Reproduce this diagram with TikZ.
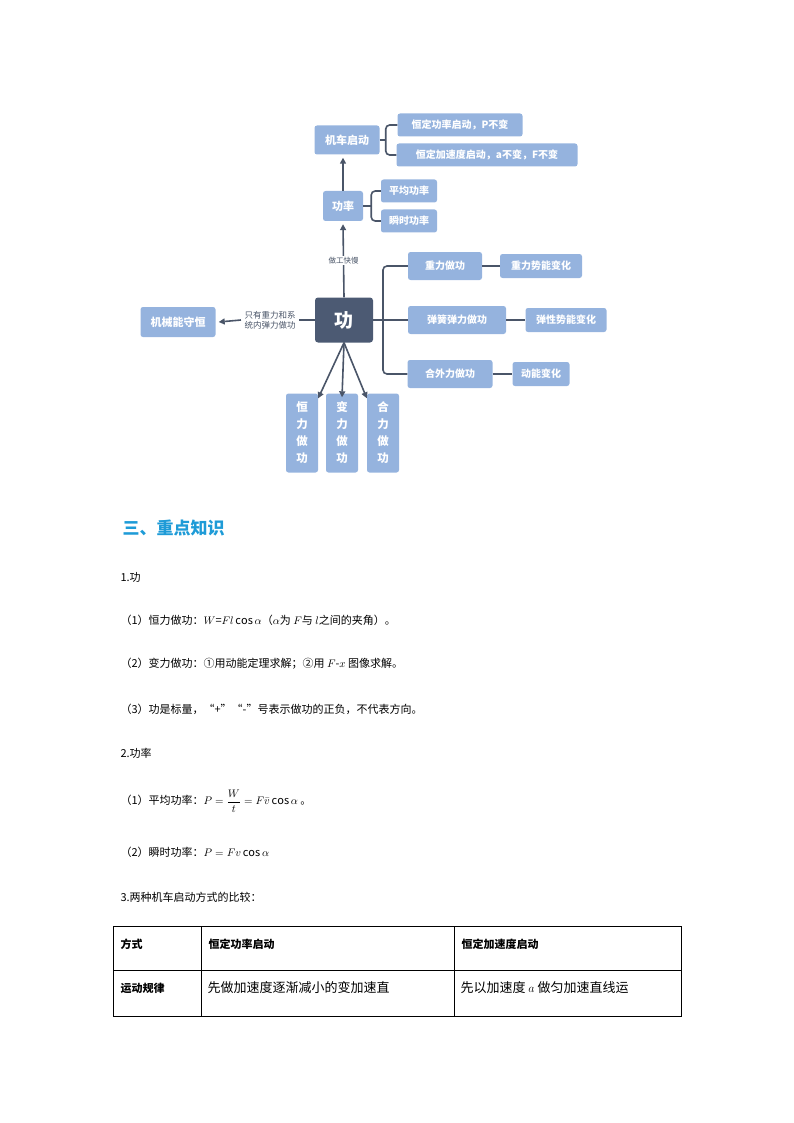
\documentclass[tikz,border=0pt]{standalone}
\usepackage{amsmath}
\usepackage{fontspec}
\setmainfont{Noto Sans CJK SC}
\usetikzlibrary{arrows.meta}
\definecolor{boxblue}{HTML}{95B3DE}
\definecolor{boxdark}{HTML}{4C5A73}
\definecolor{linegray}{HTML}{4A5568}
\definecolor{headblue}{HTML}{1E9BD7}
\tikzset{
  leaf/.style={rectangle,rounded corners=2.5pt,fill=boxblue,text=white,font=\fontsize{10}{10}\selectfont\bfseries,inner sep=0pt},
  vleaf/.style={leaf,minimum width=32pt,minimum height=79pt,align=center,font=\fontsize{11.5}{17}\selectfont\bfseries},
  conn/.style={draw=linegray,line width=1.6pt},
  arr/.style={conn,-{Triangle[length=6pt,width=6pt]}},
  para/.style={anchor=west,font=\fontsize{11}{12}\selectfont},
}
\begin{document}
\begin{tikzpicture}[x=1pt,y=-1pt]
\useasboundingbox (0,0) rectangle (794,1123);
% mind map
\node [rectangle,rounded corners=3pt,fill=boxdark,text=white,minimum width=58pt,minimum height=45pt,font=\fontsize{19}{19}\selectfont\bfseries] (gong) at (344,320) {功};
\node [leaf,minimum width=65pt,minimum height=29pt,font=\fontsize{11}{11}\selectfont\bfseries] (jiche) at (347,140) {机车启动};
\node [leaf,minimum width=125pt,minimum height=23pt] (hgl) at (460,125) {恒定功率启动，P不变};
\node [leaf,minimum width=181pt,minimum height=23pt] (hjs) at (487,155) {恒定加速度启动，a不变，F不变};
\node [leaf,minimum width=40pt,minimum height=30pt,font=\fontsize{11}{11}\selectfont\bfseries] (gonglv) at (343,206) {功率};
\node [leaf,minimum width=56pt,minimum height=23pt] (pj) at (409,191) {平均功率};
\node [leaf,minimum width=56pt,minimum height=23pt] (ss) at (409,221) {瞬时功率};
\node [leaf,minimum width=75pt,minimum height=30pt,font=\fontsize{11}{11}\selectfont\bfseries] (jxn) at (178,322) {机械能守恒};
\node [font=\fontsize{8.5}{10}\selectfont,text=linegray,align=center] (shou) at (270,320) {只有重力和系\\统内弹力做功};
\node [leaf,minimum width=74pt,minimum height=28pt] (zl) at (445,266) {重力做功};
\node [leaf,minimum width=98pt,minimum height=28pt] (th) at (457,320) {弹簧弹力做功};
\node [leaf,minimum width=85pt,minimum height=28pt] (hw) at (450,374) {合外力做功};
\node [leaf,minimum width=82pt,minimum height=24pt] (zlsn) at (541,266) {重力势能变化};
\node [leaf,minimum width=81pt,minimum height=24pt] (txsn) at (566,320) {弹性势能变化};
\node [leaf,minimum width=57pt,minimum height=24pt] (dn) at (541,374) {动能变化};
\node [vleaf] (hl) at (302,433) {恒\\力\\做\\功};
\node [vleaf] (bl) at (342,433) {变\\力\\做\\功};
\node [vleaf] (hlz) at (383,433) {合\\力\\做\\功};
\draw [arr] (gong.north) -- node [fill=white,font=\fontsize{7.5}{8}\selectfont,text=linegray,inner sep=1pt] {做工快慢} ([yshift=-3pt]gonglv.south);
\draw [arr] (gonglv.north) -- ([yshift=-3pt]gonglv.north |- jiche.south);
\draw [arr] (gong.west) -- (shou.east) (shou.west) -- ([xshift=3pt]jxn.east);
\draw [conn] (jiche.east) -- ++(6,0) coordinate (jb);
\draw [conn,rounded corners=4pt] (hgl.west) -| (jb) |- (hjs.west);
\draw [conn] (gonglv.east) -- ++(8,0) coordinate (gb);
\draw [conn,rounded corners=4pt] (pj.west) -| (gb) |- (ss.west);
\draw [conn] (gong.east) -- (th.west);
\draw [conn,rounded corners=4pt] (zl.west) -| (383,320) |- (hw.west);
\draw [conn] (zl.east) -- (zlsn.west);
\draw [conn] (th.east) -- (txsn.west);
\draw [conn] (hw.east) -- (dn.west);
\draw [arr] (gong.south) -- ([yshift=-5pt]hl.north east);
\draw [arr] (gong.south) -- ([yshift=-4pt]bl.north);
\draw [arr] (gong.south) -- ([yshift=-5pt]hlz.north west);
% text
\node [anchor=west,text=headblue,font=\fontsize{17}{18}\selectfont\bfseries] (head) at (119,528) {三、重点知识};
\node [para] (p1) at (117,577) {1.功};
\node [para] (p2) at (117,620) {（1）恒力做功：$W$=$Fl\cos\alpha$（$\alpha$为 $F$与 $l$之间的夹角）。};
\node [para] (p3) at (117,664) {（2）变力做功：①用动能定理求解；②用 $F$-$x$ 图像求解。};
\node [para] (p4) at (117,709) {（3）功是标量，“+”“-”号表示做功的正负，不代表方向。};
\node [para] (p5) at (117,753) {2.功率};
\node [para] (p6) at (117,801) {（1）平均功率：$P=\dfrac{W}{t}=F\bar{v}\cos\alpha$ 。};
\node [para] (p7) at (117,852) {（2）瞬时功率：$P=Fv\cos\alpha$};
\node [para] (p8) at (117,897) {3.两种机车启动方式的比较：};
% table
\draw [line width=0.6pt] (113,926) rectangle (681,1016);
\draw [line width=0.6pt] (113,970) -- (681,970) (201,926) -- (201,1016) (454,926) -- (454,1016);
\node [para,font=\fontsize{11}{12}\selectfont\bfseries] (t11) at (117,944) {方式};
\node [para,font=\fontsize{11}{12}\selectfont\bfseries] (t12) at (205,944) {恒定功率启动};
\node [para,font=\fontsize{11}{12}\selectfont\bfseries] (t13) at (458,944) {恒定加速度启动};
\node [para,font=\fontsize{11}{12}\selectfont\bfseries] (t21) at (117,988) {运动规律};
\node [para,font=\fontsize{13}{14}\selectfont] (t22) at (204,988) {先做加速度逐渐减小的变加速直};
\node [para,font=\fontsize{13}{14}\selectfont] (t23) at (457,988) {先以加速度 $a$ 做匀加速直线运};
\end{tikzpicture}
\end{document}
